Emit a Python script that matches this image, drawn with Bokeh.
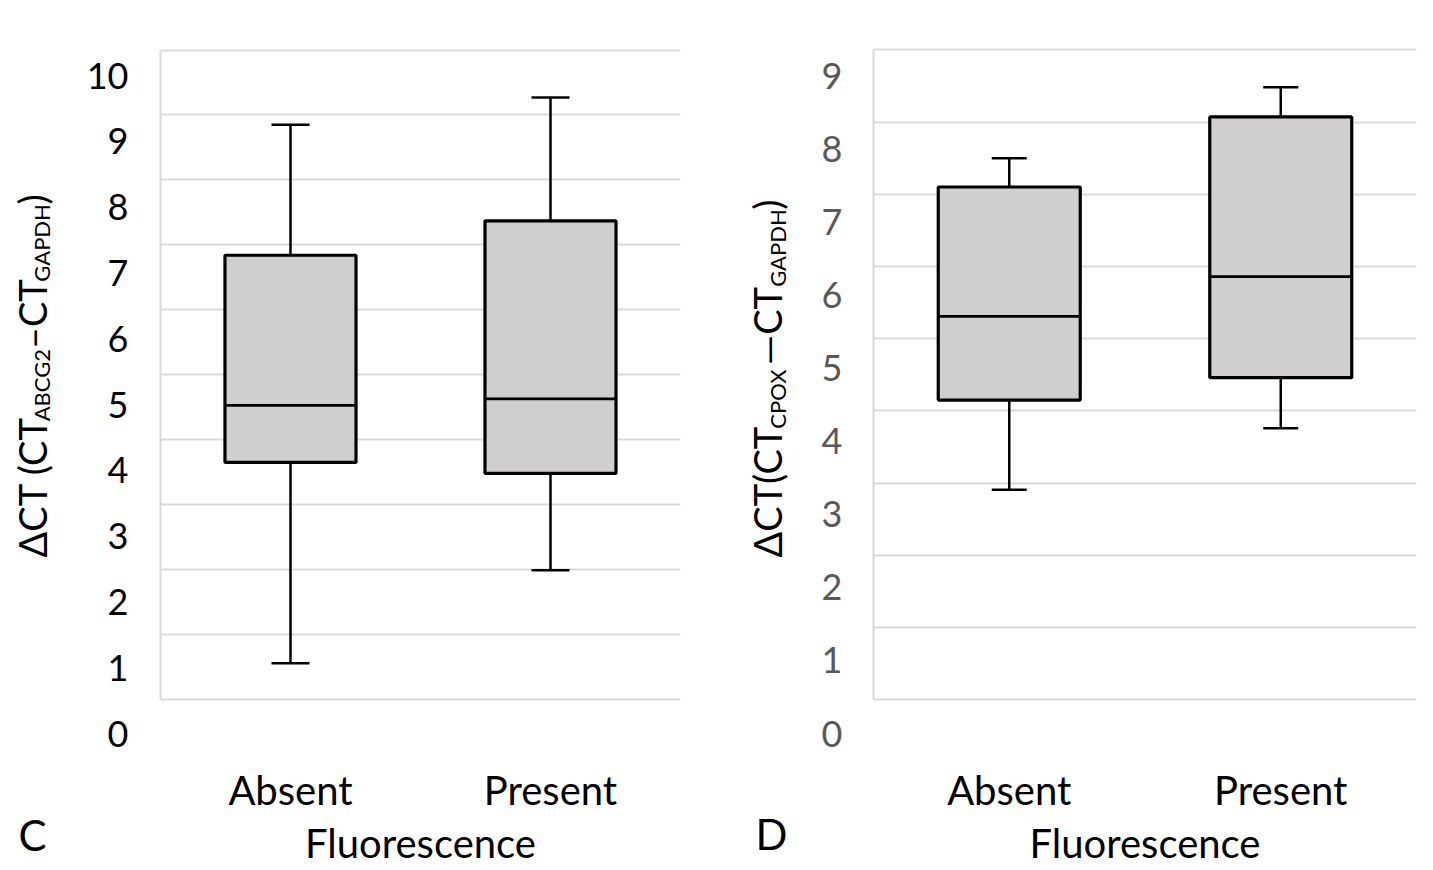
import math
from bokeh.plotting import figure
from bokeh.models import (ColumnDataSource, FactorRange, Range1d, LinearAxis,
                          FixedTicker, Whisker, TeeHead, Label)
from bokeh.transform import dodge
from bokeh.layouts import row
from bokeh.embed import file_html
from bokeh.resources import INLINE

# ---------------- data ----------------
categories = ["Absent", "Present"]

c_lower = [0.56, 1.99]
c_q1 = [3.65, 3.48]
c_median = [4.53, 4.63]
c_q3 = [6.84, 7.37]
c_upper = [8.85, 9.27]

d_lower = [2.91, 3.76]
d_q1 = [4.15, 4.46]
d_median = [5.31, 5.86]
d_q3 = [7.10, 8.07]
d_upper = [7.50, 8.48]

c_ticks = [0, 1, 2, 3, 4, 5, 6, 7, 8, 9, 10]
d_ticks = [0, 1, 2, 3, 4, 5, 6, 7, 8, 9]

c_title = [("ΔCT (CT", "main"), ("ABCG2", "sub"), ("–CT", "main"),
           ("GAPDH", "sub"), (")", "main")]
d_title = [("ΔCT(CT", "main"), ("CPOX ", "sub"), ("—CT", "main"),
           ("GAPDH", "sub"), (")", "main")]
x_title = "Fluorescence"

# ---------------- style / layout ----------------
FONT = "Lato"
GRID = "#d9d9d9"
BOX_FILL = "#d0cecf"
MAIN_SIZE = 38
SUB_SIZE = 22
FIG_H = 862
FRAME_TOP = 40
FRAME_BOTTOM = 750

WIDTHS = {"Δ": 0.66, "C": 0.665, "T": 0.55, " ": 0.193, "(": 0.30, ")": 0.30,
          "A": 0.678, "B": 0.64, "G": 0.72, "2": 0.58, "–": 0.56, "—": 0.84,
          "P": 0.60, "D": 0.748, "H": 0.76, "O": 0.80, "X": 0.64}


def text_w(s, size):
    return sum(WIDTHS.get(ch, 0.6) for ch in s) * size


def title_fig(x0, x1, parts, main_x, sub_x, start_y, letter, letter_x, letter_y):
    # frame top aligned with the panels' frame top; data coords = page pixels
    t = figure(x_range=Range1d(x0, x1), y_range=Range1d(FIG_H, FRAME_TOP), title=None,
               frame_width=x1 - x0, frame_height=FIG_H - FRAME_TOP,
               min_border=0, min_border_top=FRAME_TOP, min_border_bottom=0,
               min_border_left=0, min_border_right=0,
               x_axis_location=None, y_axis_location=None,
               output_backend="svg", toolbar_location=None, tools="")
    t.grid.visible = False
    t.outline_line_color = None
    t.background_fill_color = "white"
    t.border_fill_color = "white"
    cur = start_y
    for txt, kind in parts:
        size = MAIN_SIZE if kind == "main" else SUB_SIZE
        bx = main_x if kind == "main" else sub_x
        t.add_layout(Label(x=bx, y=cur, text=txt, angle=math.pi / 2,
                           text_font=FONT, text_font_size=f"{size}px",
                           text_baseline="alphabetic", text_align="left",
                           text_color="black"))
        cur -= text_w(txt, size)
    t.add_layout(Label(x=letter_x, y=letter_y, text=letter,
                       text_font=FONT, text_font_size="42px",
                       text_baseline="middle", text_align="left",
                       text_color="black"))
    return t


def make_panel(lower, q1, med, q3, upper, ticks, tick_color,
               page_left, fig_w, frame_l, frame_r, grid0, gridtop, lab0, labtop,
               box_w, cap_px, lab_gap):
    ymax = ticks[-1]
    ppu = (grid0 - gridtop) / ymax
    y_start = -(FRAME_BOTTOM - grid0) / ppu
    y_end = ymax + (gridtop - FRAME_TOP) / ppu
    lab_ppu = (lab0 - labtop) / ymax
    lab_a = -(lab0 - grid0) / ppu
    lab_b = lab_ppu / ppu

    fw = frame_r - frame_l

    p = figure(x_range=FactorRange(*categories), y_range=Range1d(y_start, y_end),
               frame_width=int(fw), frame_height=FRAME_BOTTOM - FRAME_TOP,
               min_border_left=frame_l - page_left,
               min_border_right=page_left + fig_w - frame_r,
               min_border_top=FRAME_TOP,
               min_border_bottom=FIG_H - FRAME_BOTTOM,
               output_backend="svg", toolbar_location=None, tools="")
    p.outline_line_color = None
    p.background_fill_color = "white"
    p.border_fill_color = "white"

    # vertical axis line restricted to 0..max
    ya = p.yaxis[0]
    ya.ticker = FixedTicker(ticks=[])
    ya.bounds = (0, ymax)
    ya.axis_line_color = GRID
    ya.axis_line_width = 2
    ya.major_tick_out = 0
    ya.major_tick_in = 0
    ya.minor_tick_out = 0
    ya.minor_tick_in = 0
    ya.major_label_standoff = 0

    p.ygrid.ticker = FixedTicker(ticks=ticks)
    p.ygrid.grid_line_color = GRID
    p.ygrid.grid_line_width = 2
    p.xgrid.grid_line_color = None

    # tick labels axis
    p.extra_y_ranges = {"lab": Range1d((y_start - lab_a) / lab_b, (y_end - lab_a) / lab_b)}
    la = LinearAxis(y_range_name="lab", ticker=FixedTicker(ticks=ticks),
                    axis_line_color=None, major_tick_line_color=None,
                    minor_tick_line_color=None, major_tick_out=0, major_tick_in=0,
                    minor_tick_out=0, minor_tick_in=0,
                    major_label_standoff=lab_gap,
                    major_label_text_font=FONT, major_label_text_font_size="36px",
                    major_label_text_color=tick_color)
    p.add_layout(la, "left")

    xa = p.xaxis[0]
    xa.axis_line_color = None
    xa.major_tick_line_color = None
    xa.major_tick_out = 0
    xa.major_tick_in = 0
    xa.major_label_standoff = 15
    xa.major_label_text_font = FONT
    xa.major_label_text_font_size = "40px"
    xa.major_label_text_color = "black"
    xa.axis_label = x_title
    xa.axis_label_text_font = FONT
    xa.axis_label_text_font_size = "40px"
    xa.axis_label_text_font_style = "normal"
    xa.axis_label_text_color = "black"
    xa.axis_label_standoff = 2

    src = ColumnDataSource(dict(cat=categories, lower=lower, q1=q1, med=med,
                                q3=q3, upper=upper))

    up = Whisker(base="cat", lower="q3", upper="upper", source=src,
                 lower_head=None,
                 upper_head=TeeHead(size=cap_px, line_width=2.5, line_color="black"),
                 line_width=2.5, line_color="black")
    lo = Whisker(base="cat", lower="lower", upper="q1", source=src,
                 upper_head=None,
                 lower_head=TeeHead(size=cap_px, line_width=2.5, line_color="black"),
                 line_width=2.5, line_color="black")
    p.add_layout(up)
    p.add_layout(lo)

    p.vbar(x="cat", width=box_w, bottom="q1", top="q3", source=src,
           fill_color=BOX_FILL, line_color="black", line_width=3.2)
    p.segment(x0=dodge("cat", -box_w / 2, range=p.x_range), y0="med",
              x1=dodge("cat", box_w / 2, range=p.x_range), y1="med",
              source=src, line_color="black", line_width=2.8)
    return p


t_c = title_fig(0, 62, c_title, main_x=31, sub_x=41, start_y=557,
                letter="C", letter_x=18, letter_y=834)
left = make_panel(c_lower, c_q1, c_median, c_q3, c_upper, c_ticks, "black",
                  page_left=62, fig_w=660, frame_l=160, frame_r=680,
                  grid0=699.0, gridtop=49.5, lab0=733.0, labtop=75.0,
                  box_w=0.504, cap_px=38, lab_gap=32)

t_d = title_fig(722, 805, d_title, main_x=766, sub_x=777, start_y=557,
                letter="D", letter_x=755, letter_y=833)
right = make_panel(d_lower, d_q1, d_median, d_q3, d_upper, d_ticks, "#595959",
                   page_left=805, fig_w=620, frame_l=873, frame_r=1416,
                   grid0=699.3, gridtop=49.3, lab0=733.0, labtop=75.0,
                   box_w=0.523, cap_px=35, lab_gap=31)

layout = row(t_c, left, t_d, right)
open("out.html", "w").write(file_html(layout, INLINE))
